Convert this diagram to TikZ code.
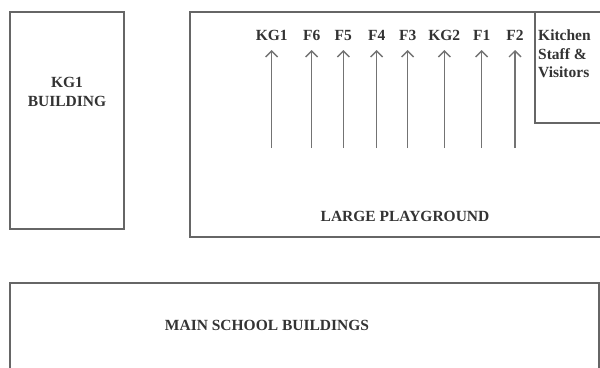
\documentclass[tikz,border=0pt]{standalone}
\usepackage{fontspec}
\setmainfont{Liberation Serif}
\usepackage{tikz}
\usetikzlibrary{positioning,arrows.meta}

\begin{document}
\begin{tikzpicture}[
  x=1pt, y=-1pt,
  every node/.style={font=\fontsize{15.5}{19}\selectfont\bfseries, text=black!80, inner sep=0pt},
  wall/.style={draw=black!60, line width=1.2pt},
  lbl/.style={anchor=center},
  arr/.style={-{Straight Barb[length=6pt, width=12pt]}, draw=black!55, line width=1.4pt, shorten >=15pt},
]
\useasboundingbox (0,0) rectangle (600,367);
\clip (0,0) rectangle (600,367);
% buildings
\draw[wall] (10,12) rectangle (124,229);
\draw[wall] (190,12) rectangle (610,237);
\draw[wall] (535,12) rectangle (610,123);
\draw[wall] (10,283) rectangle (599,380);
\node[lbl, align=center] (kgb) at (67,92) {KG1\\BUILDING};
\node[lbl] (play) at (405,216) {LARGE PLAYGROUND};
\node[lbl] (main) at (267,325) {MAIN SCHOOL BUILDINGS};
\node[anchor=north west, align=left, font=\fontsize{15.5}{18.5}\selectfont\bfseries] (kit) at (538,30) {Kitchen\\Staff \&\\Visitors};
% lines
\node[lbl] (kg1) at (271.7,35) {KG1};
\node[lbl] (f6) at (311.7,35) {F6};
\node[lbl] (f5) at (343.3,35) {F5};
\node[lbl] (f4) at (376.7,35) {F4};
\node[lbl] (f3) at (407.7,35) {F3};
\node[lbl] (kg2) at (444.3,35) {KG2};
\node[lbl] (f1) at (481.7,35) {F1};
\node[lbl] (f2) at (515,35) {F2};
\coordinate (b1) at (271.7,148);
\coordinate (b2) at (311.7,148);
\coordinate (b3) at (343.3,148);
\coordinate (b4) at (376.7,148);
\coordinate (b5) at (407.7,148);
\coordinate (b6) at (444.3,148);
\coordinate (b7) at (481.7,148);
\coordinate (b8) at (515,148);
\draw[arr] (b1) -- (kg1.center);
\draw[arr] (b2) -- (f6.center);
\draw[arr] (b3) -- (f5.center);
\draw[arr] (b4) -- (f4.center);
\draw[arr] (b5) -- (f3.center);
\draw[arr] (b6) -- (kg2.center);
\draw[arr] (b7) -- (f1.center);
\draw[arr] (b8) -- (f2.center);
\end{tikzpicture}
\end{document}
